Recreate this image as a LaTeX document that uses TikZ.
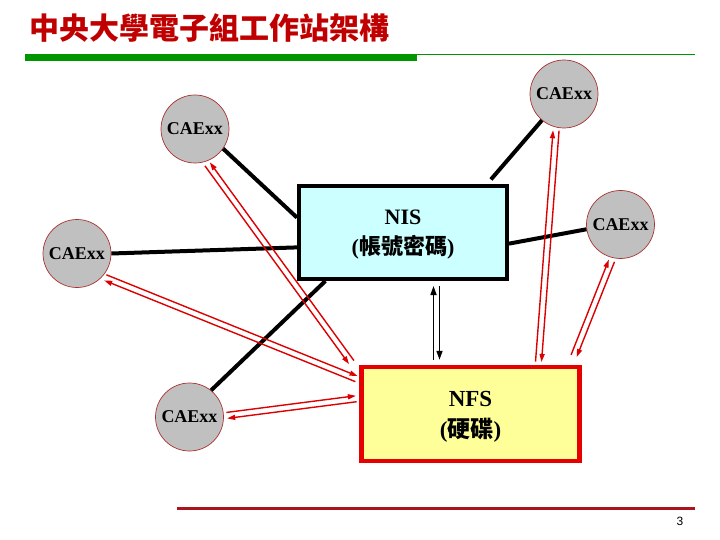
\documentclass[tikz,border=0pt]{standalone}
\usepackage{fontspec}
\setmainfont{Liberation Serif}
\setsansfont{Liberation Sans}
\newfontfamily\cjk{Noto Sans CJK TC}
\usepackage{tikz}
\usetikzlibrary{arrows.meta}
\usetikzlibrary{calc}
\definecolor{titlered}{RGB}{192,0,0}
\definecolor{bargreen}{RGB}{0,150,0}
\definecolor{rulered}{RGB}{170,20,30}
\definecolor{caegray}{RGB}{192,192,192}
\definecolor{caeedge}{RGB}{170,50,50}
\definecolor{nisfill}{RGB}{204,255,255}
\definecolor{nfsfill}{RGB}{255,255,153}
\definecolor{nfsred}{RGB}{230,0,0}
\definecolor{linkred}{RGB}{220,0,0}
\tikzset{>={Triangle[length=8pt,width=5pt]}}

\begin{document}
\begin{tikzpicture}[
            x=1pt, y=-1pt,
            cae/.style={circle, draw=caeedge, fill=caegray, line width=0.7pt, minimum size=68pt,
                        inner sep=0pt, font=\fontsize{18}{20}\selectfont\bfseries},
            nisbox/.style={rectangle, draw=black, fill=nisfill, line width=4pt, minimum width=208pt,
                           minimum height=93pt, align=center, text depth=0pt,
                           font=\fontsize{22}{30}\selectfont\bfseries},
            nfsbox/.style={rectangle, draw=nfsred, fill=nfsfill, line width=4.5pt, minimum width=218pt,
                           minimum height=94pt, align=center, text depth=0pt,
                           font=\fontsize{23}{31}\selectfont\bfseries},
            wire/.style={line width=4pt, draw=black},
            link/.style={line width=1.4pt, draw=linkred, shorten >=3pt, shorten <=3pt},
            sync/.style={line width=1.6pt, draw=black, shorten >=5pt, shorten <=5pt,
                         >={Triangle[length=9pt,width=6pt]}},
        ]

        \useasboundingbox (0,0) rectangle (720,540);

        % Title and rules
        \node[anchor=west, inner sep=0pt, text=titlered, font=\cjk\bfseries\fontsize{30}{32}\selectfont]
            (title) at (29,28) {中央大學電子組工作站架構};
        \fill[bargreen] (25,54) rectangle (417,61);
        \draw[bargreen, line width=1.2pt] (417,54.6) -- (695,54.6);
        \draw[rulered, line width=3pt] (177,508) -- (695,508);
        \node[font=\sffamily\fontsize{12}{14}\selectfont] (pageno) at (680,521) {3};

        % Servers
        \node[nisbox] (nis) at (403,232.5) {NIS \\ ({\cjk 帳號密碼})};
        \node[nfsbox] (nfs) at (470.5,414) {NFS \\ ({\cjk 硬碟})};

        % Workstations
        \node[cae] (cae1) at (564,94) {CAExx};
        \node[cae] (cae2) at (195,129) {CAExx};
        \node[cae] (cae3) at (77,253.5) {CAExx};
        \node[cae] (cae4) at (620.5,224.5) {CAExx};
        \node[cae] (cae5) at (189.5,417) {CAExx};

        % Network to NIS
        \draw[wire, shorten >=6pt] (cae1.230) -- (nis.30);
        \draw[wire] (cae2.-35) -- (nis.172);
        \draw[wire] (cae3.east) -- (nis.188);
        \draw[wire] (cae4.188) -- (nis.-6);
        \draw[wire] (cae5.51) -- (nis.212);

        % NIS <-> NFS
        \draw[sync,->] ([xshift=-37pt]nfs.north) -- ([xshift=-37pt]nfs.north |- nis.south);
        \draw[sync,<-] ([xshift=-31pt]nfs.north) -- ([xshift=-31pt]nfs.north |- nis.south);

        % File traffic, one line each way
        \draw[link,<-] ($(cae2.-72)!3pt!90:([xshift=-6pt]nfs.north west)$) -- ($([xshift=-6pt]nfs.north west)!3pt!-90:(cae2.-72)$);
        \draw[link,->] ($(cae2.-72)!3pt!-90:([xshift=-6pt]nfs.north west)$) -- ($([xshift=-6pt]nfs.north west)!3pt!90:(cae2.-72)$);

        \draw[link,->] ($(cae3.-42)!3pt!90:(nfs.163)$) -- ($(nfs.163)!3pt!-90:(cae3.-42)$);
        \draw[link,<-] ($(cae3.-42)!3pt!-90:(nfs.163)$) -- ($(nfs.163)!3pt!90:(cae3.-42)$);

        \draw[link,->] ($(cae5.2)!3pt!90:(nfs.172)$) -- ($(nfs.172)!3pt!-90:(cae5.2)$);
        \draw[link,<-] ($(cae5.2)!3pt!-90:(nfs.172)$) -- ($(nfs.172)!3pt!90:(cae5.2)$);

        \draw[link,->] ($(cae1.-103)!3pt!90:(nfs.36)$) -- ($(nfs.36)!3pt!-90:(cae1.-103)$);
        \draw[link,<-] ($(cae1.-103)!3pt!-90:(nfs.36)$) -- ($(nfs.36)!3pt!90:(cae1.-103)$);

        \draw[link,->] ($(cae4.-103)!3pt!90:([shift={(-9pt,6pt)}]nfs.north east)$) -- ($([shift={(-9pt,6pt)}]nfs.north east)!3pt!-90:(cae4.-103)$);
        \draw[link,<-] ($(cae4.-103)!3pt!-90:([shift={(-9pt,6pt)}]nfs.north east)$) -- ($([shift={(-9pt,6pt)}]nfs.north east)!3pt!90:(cae4.-103)$);

        \end{tikzpicture}
\end{document}
